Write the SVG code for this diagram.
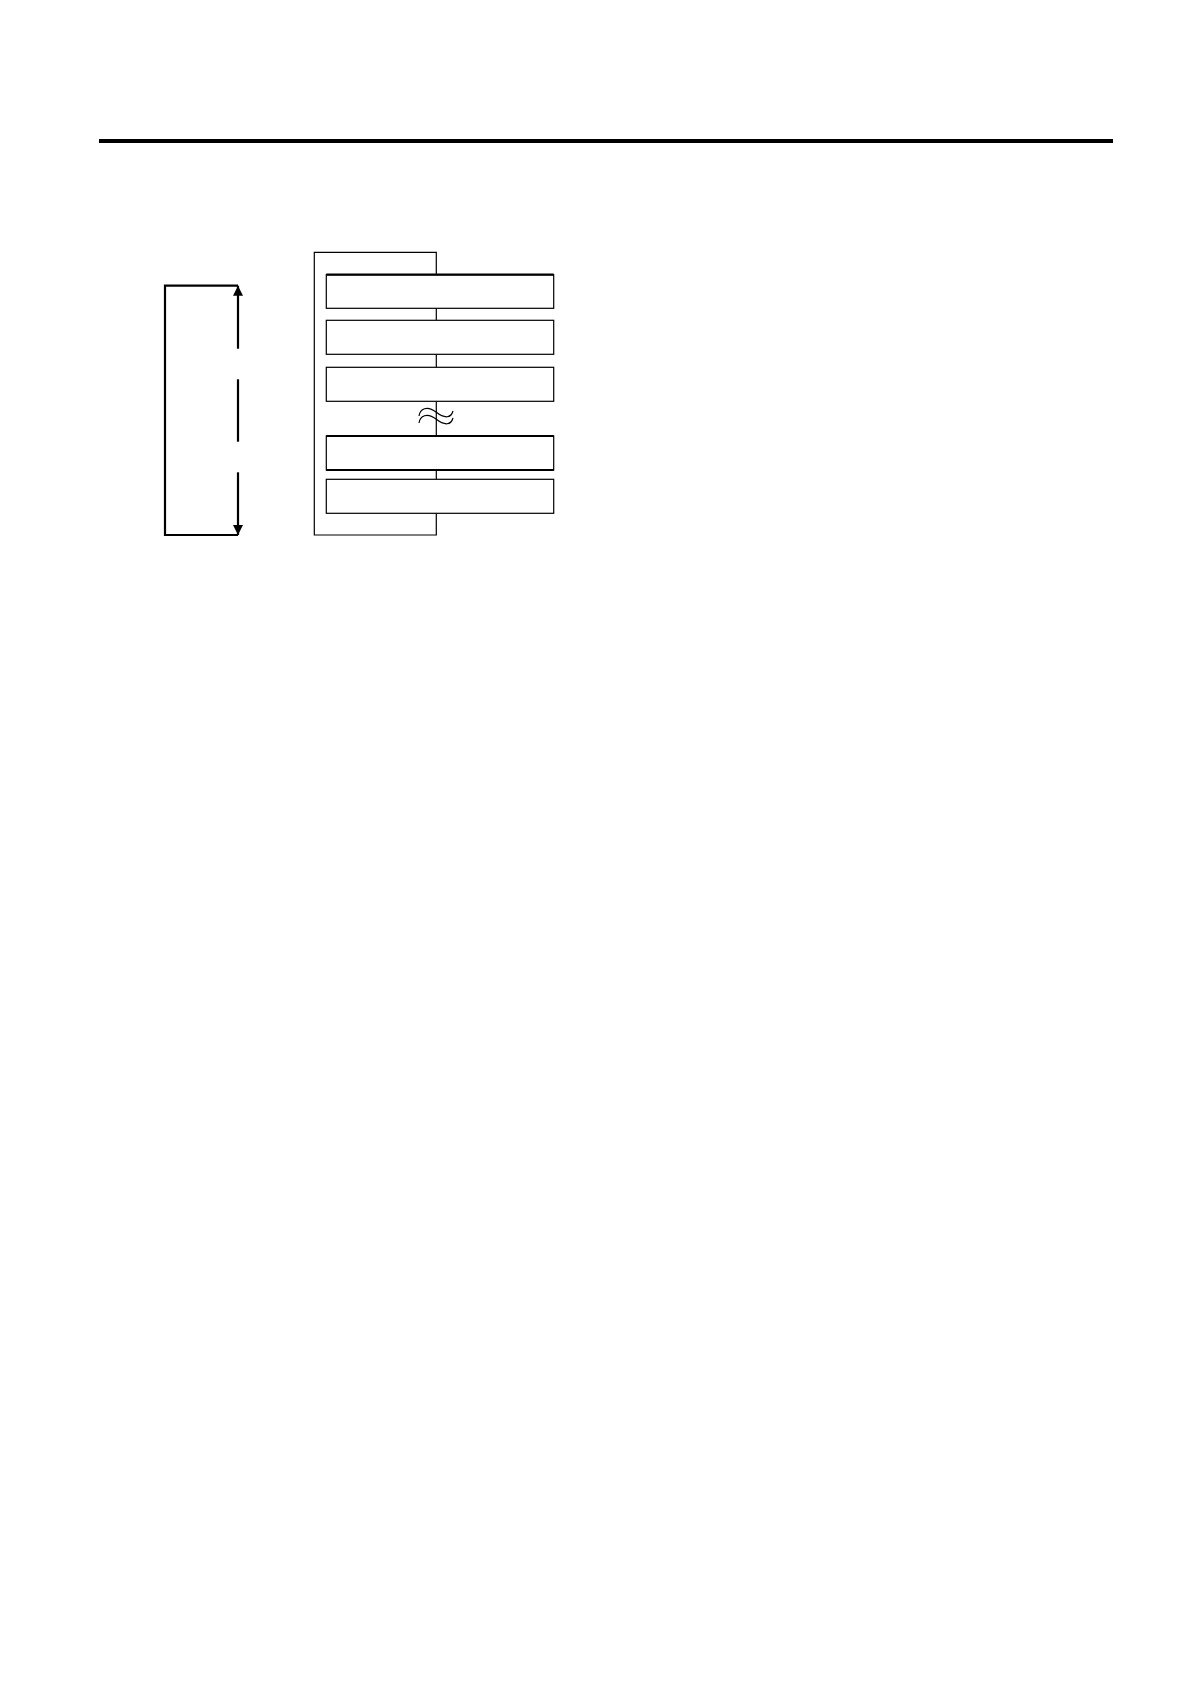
<svg xmlns="http://www.w3.org/2000/svg" width="1190" height="1684" viewBox="0 0 1190 1684">
<defs>
<style>
.box{fill:#fff;stroke:#000;stroke-width:1.2}
.thin{fill:none;stroke:#000;stroke-width:1.2}
.thick{fill:none;stroke:#000;stroke-width:2.2}
</style>
<marker id="ah" viewBox="0 0 10 10" refX="10" refY="5" markerWidth="10" markerHeight="10" markerUnits="userSpaceOnUse" orient="auto">
<path d="M0,0 L10,5 L0,10 Z" fill="#000"/>
</marker>
</defs>
<rect width="1190" height="1684" fill="#fff"/>
<line x1="99" y1="141" x2="1113" y2="141" stroke="#000" stroke-width="4"/>
<g id="connectors">
<path class="thin" d="M436.3,274.7 V252.3 H314.3 V535 H436.3 V513.3"/>
<line class="thin" x1="436.3" y1="308.3" x2="436.3" y2="320.3"/>
<line class="thin" x1="436.3" y1="354.3" x2="436.3" y2="367.3"/>
<line class="thin" x1="436.3" y1="401.3" x2="436.3" y2="436"/>
<line class="thin" x1="436.3" y1="470" x2="436.3" y2="479.3"/>
<path class="thick" d="M238,285.7 H165 V535 H238"/>
<line class="thick" x1="238" y1="348.7" x2="238" y2="285.7" marker-end="url(#ah)"/>
<line class="thick" x1="238" y1="379.3" x2="238" y2="441.7"/>
<line class="thick" x1="238" y1="472.3" x2="238" y2="535" marker-end="url(#ah)"/>
</g>
<g id="wave">
<path class="thin" stroke-width="1.6" d="M419,416 C420,409 427,405 436,412 C445,419 451,418 453,411"/>
<path class="thin" stroke-width="1.6" d="M419,423 C420,416 427,412 436,419 C445,426 451,425 453,418"/>
</g>
<g id="box1">
<rect class="box" x="326.3" y="274.7" width="227.4" height="33.6"/>
<line class="thick" x1="326.3" y1="274.7" x2="553.7" y2="274.7"/>
</g>
<g id="box2">
<rect class="box" x="326.3" y="320.3" width="227.4" height="34"/>
</g>
<g id="box3">
<rect class="box" x="326.3" y="367.3" width="227.4" height="34"/>
</g>
<g id="box4">
<rect class="box" x="326.3" y="436" width="227.4" height="34"/>
<line class="thick" x1="326.3" y1="436" x2="553.7" y2="436"/>
<line class="thick" x1="326.3" y1="470" x2="553.7" y2="470"/>
</g>
<g id="box5">
<rect class="box" x="326.3" y="479.3" width="227.4" height="34"/>
</g>
</svg>
